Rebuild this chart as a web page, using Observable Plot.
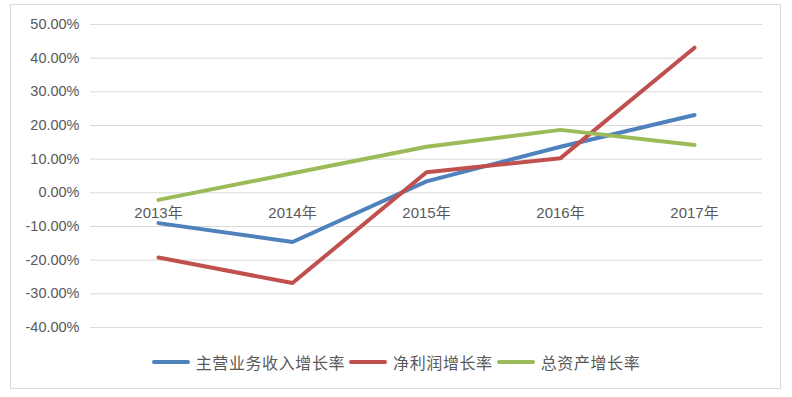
<!DOCTYPE html>
<html>
<head>
<meta charset="utf-8">
<script src="https://cdn.jsdelivr.net/npm/d3@7"></script>
<script src="https://cdn.jsdelivr.net/npm/@observablehq/plot@0.6"></script>
<style>
  html, body { margin: 0; padding: 0; background: #ffffff; }
  #wrap { position: relative; width: 792px; height: 397px; overflow: hidden; font-family: "Liberation Sans", "Noto Sans CJK SC", sans-serif; }
  #frame { position: absolute; left: 10px; top: 4px; width: 771px; height: 385px; border: 1px solid #d9d9d9; box-sizing: border-box; pointer-events: none; }
  #legend { position: absolute; left: 0; top: 352px; width: 792px; height: 20px; display: flex; justify-content: center; align-items: center; font-family: "Noto Sans CJK SC", sans-serif; font-size: 16px; color: #595959; letter-spacing: 0.6px; }
  .item { display: flex; align-items: center; margin: 0 2px; }
  .swatch { width: 38px; height: 4px; border-radius: 2px; margin-right: 6px; }
</style>
</head>
<body>
<div id="wrap">
  <div id="chart"></div>
  <div id="legend"></div>
  <div id="frame"></div>
</div>
<script>
const categories = ["2013年", "2014年", "2015年", "2016年", "2017年"];
const seriesNames = ["主营业务收入增长率", "净利润增长率", "总资产增长率"];
const seriesColors = ["#4f81bd", "#c0504d", "#9bbb59"];
const revenueGrowth = [-9.0, -14.6, 3.4, 13.7, 23.1];
const netProfitGrowth = [-19.2, -26.8, 6.1, 10.3, 43.1];
const assetGrowth = [-2.1, 5.8, 13.7, 18.7, 14.2];
const yTicks = [-40, -30, -20, -10, 0, 10, 20, 30, 40, 50];

const seriesValues = [revenueGrowth, netProfitGrowth, assetGrowth];
const rows = [];
seriesNames.forEach((name, s) => {
  categories.forEach((c, i) => rows.push({series: name, year: c, value: seriesValues[s][i]}));
});

const chart = Plot.plot({
  width: 792,
  height: 397,
  marginLeft: 90,
  marginRight: 30,
  marginTop: 24,
  marginBottom: 70,
  style: {fontFamily: "'Liberation Sans', 'Noto Sans CJK SC', sans-serif", fontSize: "14.5px", background: "transparent"},
  x: {type: "point", domain: categories, padding: 0.5, axis: null},
  y: {domain: [-40, 50], axis: null},
  color: {domain: seriesNames, range: seriesColors},
  marks: [
    Plot.ruleY(yTicks, {stroke: "#d9d9d9", strokeWidth: 1}),
    Plot.axisY({ticks: yTicks, tickFormat: d => d.toFixed(2) + "%", tickSize: 0, tickPadding: 11, fill: "#595959", fontSize: 14.5, label: null}),
    Plot.text(categories, {x: d => d, y: () => 0, dy: 20, fill: "#595959", fontSize: 15}),
    Plot.line(rows, {x: "year", y: "value", z: "series", stroke: "series", strokeWidth: 4, strokeLinecap: "round", strokeLinejoin: "miter"})
  ]
});
document.getElementById("chart").appendChild(chart);

const legend = document.getElementById("legend");
seriesNames.forEach((name, i) => {
  const item = document.createElement("div");
  item.className = "item";
  const sw = document.createElement("div");
  sw.className = "swatch";
  sw.style.background = seriesColors[i];
  const label = document.createElement("span");
  label.textContent = name;
  item.appendChild(sw);
  item.appendChild(label);
  legend.appendChild(item);
});
</script>
</body>
</html>
